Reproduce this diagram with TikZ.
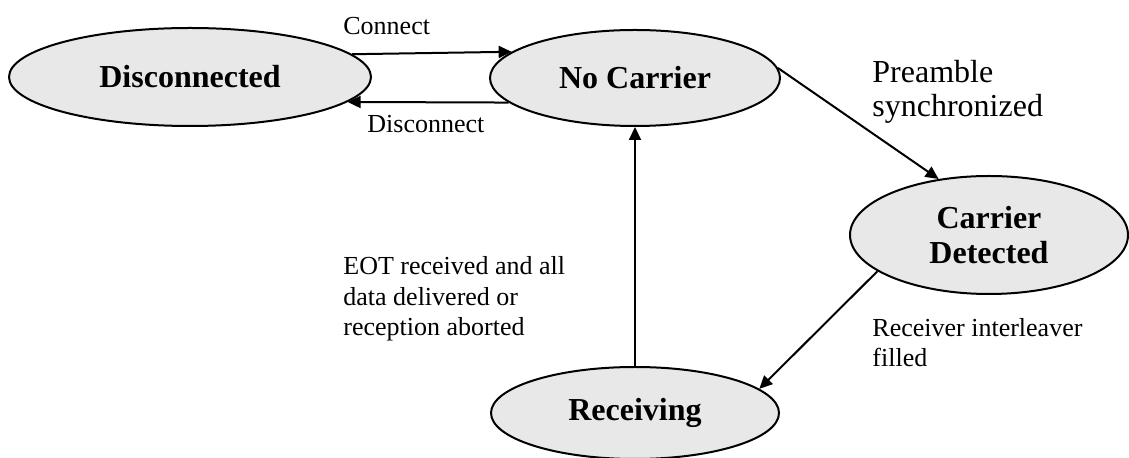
\documentclass[tikz,border=0pt]{standalone}
\usepackage{fontspec}
\setmainfont{Liberation Serif}
\usepackage{tikz}
\usetikzlibrary{shapes.geometric , arrows.meta}
\definecolor{stategray}{RGB}{232,232,232}

\begin{document}
\begin{tikzpicture}[x = 0.5pt , y = -0.5pt ,
    state/.style = {ellipse , draw , line width = 1pt , fill = stategray , inner sep = 0pt , align = center , font = \fontsize{16}{17.5}\selectfont\bfseries},
    lbl/.style = {inner sep = 0pt , align = left , anchor = base west , font = \fontsize{13}{15.3}\selectfont},
    trans/.style = {line width = 1pt , -{Triangle[length = 6.5pt , width = 6pt]}}]
    \useasboundingbox (0,0) rectangle (1129,458);

    % Zustaende
    \node[state , minimum width = 181pt , minimum height = 49pt] (dis) at (190,77) {Disconnected};
    \node[state , minimum width = 145pt , minimum height = 48pt] (nc) at (635,78) {No Carrier};
    \node[state , minimum width = 139pt , minimum height = 59pt] (cd) at (989,235) {Carrier\\Detected};
    \node[state , minimum width = 144pt , minimum height = 46pt] (rcv) at (635,413) {Receiving};

    % Uebergaenge
    \draw[trans] (dis.8.65) -- (nc.168.6);
    \draw[trans] (nc.191.4) -- (dis.-9.6);
    \draw[trans] (nc.4) -- (cd.132.5);
    \draw[trans] (cd.198) -- (rcv.11.6);
    \draw[trans] (rcv) -- (nc);

    % Beschriftungen (base = letzte Zeile)
    \node[lbl] (lconnect) at (343,35) {Connect};
    \node[lbl] (ldisconnect) at (367,133) {Disconnect};
    \node[lbl , font = \fontsize{16}{17}\selectfont] (lpreamble) at (872,117) {Preamble\\synchronized};
    \node[lbl] (leot) at (343,336) {EOT received and all\\data delivered or\\reception aborted};
    \node[lbl] (lfilled) at (872,367) {Receiver interleaver\\filled};
\end{tikzpicture}
\end{document}
